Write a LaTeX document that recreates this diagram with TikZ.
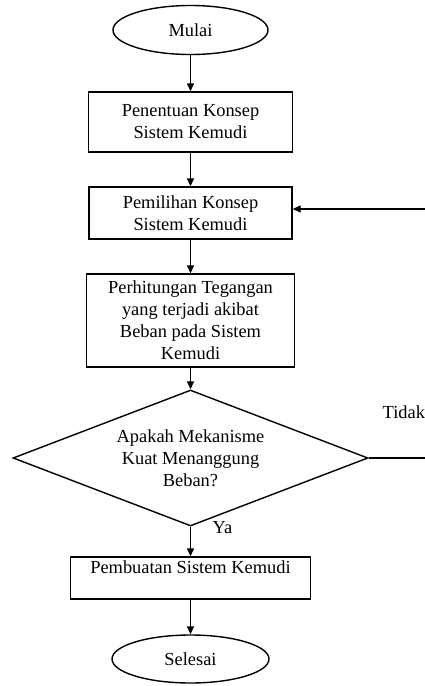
\documentclass[tikz,border=0pt]{standalone}
\usepackage{fontspec}
\setmainfont{Liberation Serif}
\usetikzlibrary{calc, positioning}
\usetikzlibrary{shapes.geometric}
\usetikzlibrary{arrows.meta}

\tikzset{
  procbox/.style={draw, rectangle, align=center, inner sep=2pt},
  termbox/.style={draw, ellipse, inner sep=0pt},
  decbox/.style={draw, diamond, align=center, inner sep=0pt, aspect=2.6},
  flowarrow/.style={-{Triangle[length=8pt, width=7pt]}}
}

\begin{document}
\begin{tikzpicture}[x=1pt, y=-1pt, line width=1.4pt,
  font=\fontsize{18.4}{22}\selectfont]
\def\xmid{190.5}
\def\xedge{425}

\useasboundingbox (0,0) rectangle (425,686);

\coordinate (Cmulai) at (\xmid,30);
\coordinate (Cpenentuan) at (\xmid,122);
\coordinate (Cpemilihan) at (\xmid,213);
\coordinate (Cperhitungan) at (\xmid,320.5);
\coordinate (Capakah) at (\xmid,458);
\coordinate (Cpembuatan) at (\xmid,578);
\coordinate (Cselesai) at (\xmid,659);

\node[termbox, minimum width=155pt, minimum height=49pt] (mulai) at (Cmulai) {Mulai};
\node[procbox, minimum width=204pt, minimum height=60pt] (penentuan) at (Cpenentuan)
  {Penentuan Konsep\\Sistem Kemudi};
\node[procbox, minimum width=203pt, minimum height=52pt] (pemilihan) at (Cpemilihan)
  {Pemilihan Konsep\\Sistem Kemudi};
\node[procbox, minimum width=208pt, minimum height=93pt] (perhitungan) at (Cperhitungan)
  {Perhitungan Tegangan\\yang terjadi akibat\\Beban pada Sistem\\Kemudi};
\node[decbox, minimum width=355pt, minimum height=136pt] (apakah) at (Capakah)
  {Apakah Mekanisme\\Kuat Menanggung\\Beban?};
\node[procbox, minimum width=240pt, minimum height=42pt] (pembuatan) at (Cpembuatan)
  {Pembuatan Sistem Kemudi\\\mbox{}};
\node[termbox, minimum width=157pt, minimum height=48pt] (selesai) at (Cselesai) {Selesai};

\coordinate (tidakend) at (\xedge,458);
\coordinate (loopstart) at (\xedge,209);

\draw[flowarrow] (mulai) -- (penentuan);
\draw[flowarrow] (penentuan) -- (pemilihan);
\draw[flowarrow] (pemilihan) -- (perhitungan);
\draw[flowarrow] (perhitungan) -- (apakah);
\draw[flowarrow] (apakah.south) -- (pembuatan);
\draw[flowarrow] (pembuatan) -- (selesai);

\draw (apakah.east) -- (tidakend);
\draw[flowarrow] (loopstart) -- (pemilihan.east |- loopstart);

\node[anchor=west, inner sep=0pt] (tidak) at (382,412) {Tidak};
\node[anchor=west, inner sep=0pt] (ya) at (212,528) {Ya};
\end{tikzpicture}
\end{document}
